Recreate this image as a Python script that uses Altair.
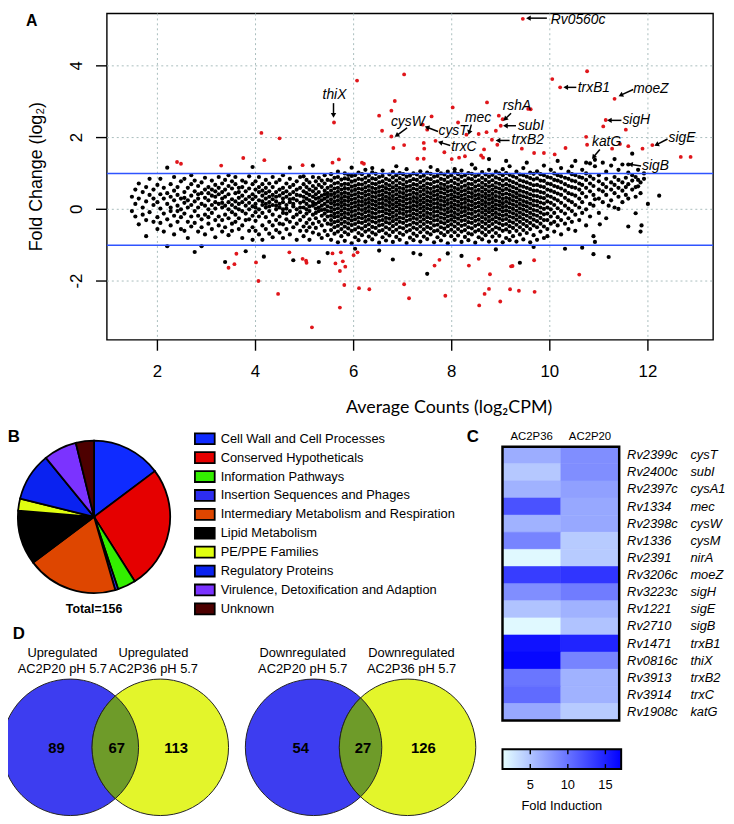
import altair as alt
import pandas as pd

# ======================= Panel A : MA plot =======================
# black (non-significant) genes, written column by column: "x|y y y ..."
black_columns = [
"1.48|0.35 -0.05", "1.55|-0.2 0.55 0.15", "1.62|0.3 -0.42 0.72", "1.70|0.05 0.48 -0.15",
"1.77|-0.75 0.22 0.62 -0.3", "1.84|0.4 -0.08 0.85", "1.92|-0.35 0.12 0.55 0.3",
"2.00|0.68 -0.22 0.2 -0.55", "2.06|0.42 0.02 -0.38 0.85", "2.13|-0.12 0.3 0.6 -0.62",
"2.20|-1.03 0.15 0.45 -0.28 1.16", "2.27|0.7 -0.05 0.35 -0.45 0.05", "2.34|-0.7 0.25 0.52 -0.18 0.9",
"2.41|0.1 -0.35 0.62 0.4 -0.05", "2.48|-0.55 0.3 0.78 0.0 -0.22", "2.55|0.48 -0.12 0.18 0.85 -0.6 0.32",
"2.62|-0.35 0.05 0.6 -0.8 0.25", "2.69|0.38 -0.2 0.7 0.12 -0.48 0.95", "2.76|-1.19 0.22 -0.05 0.5 -0.38 0.8",
"2.83|0.3 -0.62 0.05 0.65 -0.18 0.42", "2.90|-1.03 0.45 -0.28 0.15 0.75 -0.5", "2.97|0.1 0.55 -0.15 0.32 -0.7 0.88",
"3.04|-0.4 0.25 0.62 0.0 -0.22 0.45", "3.11|0.38 -0.55 0.12 0.8 -0.1 0.55", "3.18|-0.3 0.2 0.5 -0.78 0.02 0.68 0.35",
"3.25|0.15 -0.45 0.42 0.9 -0.2 0.6", "3.32|-0.62 0.3 0.05 0.72 -0.3 0.48 0.18", "3.38|-1.47 0.1 0.55 -0.15 0.35 -0.5 0.82",
"3.45|0.42 -0.25 0.2 0.65 -0.72 0.0 0.95", "3.52|-0.4 0.28 0.58 -0.08 0.12 -0.6 0.78", "3.59|0.05 0.45 -0.35 0.7 0.22 -0.15 0.9",
"3.66|-0.55 0.32 0.0 0.6 -0.25 0.48 0.15", "3.73|0.2 -0.45 0.8 -0.05 0.38 0.62 -0.8", "3.80|-1.17 0.1 0.5 -0.3 0.28 0.75 -0.12",
"3.87|0.35 -0.6 0.0 0.58 0.18 -0.28 0.92", "3.94|-0.18 0.42 0.08 -0.5 0.7 0.28 -0.85 1.18",
"4.00|0.15 -0.32 0.55 0.35 -0.08 0.78 -0.6 0.05", "4.07|0.48 -0.2 0.25 -0.7 0.62 0.0 0.9",
"4.14|-0.45 0.12 0.38 -0.1 0.7 0.22 -0.85 0.52", "4.17|-1.32", "4.21|0.3 -0.55 0.05 0.6 -0.22 0.45 0.82 0.15",
"4.28|-0.35 0.2 0.5 -0.05 0.72 0.35 -0.68 0.08", "4.35|0.4 -0.15 0.62 0.12 -0.45 0.28 0.9 -0.78",
"4.42|0.0 0.48 -0.3 0.22 0.75 -0.58 0.35 0.1", "4.49|-0.2 0.55 0.15 -0.65 0.38 0.05 0.82 -0.4",
"4.56|0.3 -0.1 0.6 -0.42 0.2 0.45 -0.8 0.0 0.95", "4.63|-0.28 0.12 0.5 0.35 -0.55 0.72 0.02 -0.12",
"4.70|0.42 -0.35 0.2 0.62 -0.05 0.85 -0.7 0.28 1.16", "4.77|-1.42 0.08 0.48 -0.22 0.3 0.68 -0.5 0.15",
"4.84|0.25 -0.4 0.55 0.0 0.78 -0.15 0.4 -0.85", "4.91|-0.3 0.18 0.6 -0.08 0.38 -0.6 0.9 0.05",
"4.98|0.35 -0.2 0.05 0.7 0.22 -0.48 0.5 -0.75 0.92", "5.04|-0.12 0.45 0.15 -0.38 0.62 0.3 -0.6 0.0 0.82",
"5.10|0.25 -0.28 0.55 0.08 -0.5 0.4 0.75 -0.05 -0.85", "5.17|0.1 -0.4 0.35 0.65 -0.15 0.5 0.2 -0.65 1.22 0.9",
"5.23|-0.25 0.3 0.02 0.58 -0.52 0.42 0.15 0.78 -0.1", "5.29|0.48 -0.05 0.2 -0.35 0.68 0.32 -0.7 0.05 -1.47 0.88",
"5.35|-0.18 0.38 0.1 0.62 -0.45 0.25 -0.02 0.8 -0.8", "5.41|0.3 -0.3 0.52 0.0 -0.6 0.72 0.15 0.42 -0.12 0.95",
"5.47|-0.05 0.45 0.22 -0.4 0.6 -0.2 0.08 0.82 -0.72 0.35 -1.22",
"5.54|-0.85 -0.58 -0.42 -0.3 -0.18 -0.06 0.05 0.17 0.28 0.4 0.52 0.65 0.8 0.98",
"5.61|-0.68 -0.5 -0.36 -0.22 -0.12 0.0 0.12 0.22 0.34 0.45 0.58 0.72 0.88",
"5.68|-0.92 -0.62 -0.46 -0.33 -0.2 -0.09 0.03 0.14 0.25 0.37 0.49 0.6 0.74 0.9 1.05",
"5.75|-0.75 -0.55 -0.4 -0.27 -0.15 -0.03 0.09 0.2 0.31 0.43 0.55 0.68 0.83",
"5.82|-0.88 -0.64 -0.48 -0.35 -0.22 -0.1 0.02 0.13 0.24 0.36 0.47 0.59 0.71 0.86 1.0",
"5.89|-0.7 -0.53 -0.39 -0.26 -0.13 -0.01 0.11 0.23 0.33 0.44 0.57 0.7 0.84 0.96",
"5.96|-0.95 -0.6 -0.44 -0.31 -0.19 -0.07 0.04 0.16 0.27 0.39 0.51 0.63 0.77 0.93 1.16",
"6.03|-0.78 -0.56 -0.41 -0.28 -0.16 -0.04 0.08 0.19 0.3 0.42 0.54 0.66 0.8 0.95 -1.1",
"6.10|-0.86 -0.66 -0.5 -0.36 -0.23 -0.11 0.01 0.12 0.23 0.35 0.46 0.58 0.7 0.85 1.02",
"6.17|-0.72 -0.54 -0.38 -0.25 -0.14 -0.02 0.1 0.21 0.32 0.44 0.56 0.69 0.83 0.98",
"6.24|-0.9 -0.62 -0.47 -0.33 -0.21 -0.08 0.03 0.15 0.26 0.38 0.49 0.61 0.74 0.88 1.1",
"6.31|-0.76 -0.57 -0.42 -0.29 -0.17 -0.05 0.07 0.18 0.29 0.41 0.53 0.65 0.79 0.94",
"6.38|-0.84 -0.65 -0.49 -0.34 -0.22 -0.1 0.02 0.14 0.25 0.36 0.48 0.6 0.72 0.86 1.03 1.15",
"6.45|-0.7 -0.52 -0.37 -0.24 -0.12 0.0 0.11 0.22 0.34 0.46 0.57 0.7 0.84 0.99",
"6.52|-0.93 -0.61 -0.45 -0.32 -0.2 -0.07 0.05 0.16 0.27 0.39 0.5 0.62 0.75 0.9 -1.15",
"6.59|-0.78 -0.58 -0.43 -0.3 -0.18 -0.06 0.06 0.17 0.29 0.4 0.52 0.64 0.78 0.93 1.08",
"6.66|-0.87 -0.67 -0.5 -0.36 -0.24 -0.11 0.0 0.12 0.24 0.35 0.47 0.59 0.71 0.85",
"6.73|-0.73 -0.55 -0.39 -0.26 -0.14 -0.03 0.09 0.2 0.31 0.43 0.55 0.67 0.81 0.97",
"6.80|-0.91 -0.63 -0.47 -0.33 -0.21 -0.09 0.03 0.14 0.26 0.37 0.49 0.61 0.74 0.89 1.04 -1.4",
"6.87|-0.77 -0.57 -0.41 -0.28 -0.16 -0.04 0.08 0.19 0.3 0.42 0.54 0.66 0.8 0.95 1.2",
"6.94|-0.85 -0.66 -0.5 -0.35 -0.23 -0.1 0.01 0.13 0.24 0.36 0.48 0.6 0.73 0.87 1.01",
"7.01|-0.71 -0.53 -0.38 -0.25 -0.13 -0.01 0.1 0.22 0.33 0.45 0.57 0.69 0.83 0.98",
"7.08|-0.94 -0.62 -0.46 -0.32 -0.19 -0.07 0.05 0.16 0.28 0.39 0.51 0.63 0.76 0.91 1.12",
"7.15|-0.79 -0.58 -0.43 -0.29 -0.17 -0.05 0.06 0.18 0.29 0.41 0.53 0.65 0.79 0.94",
"7.22|-0.86 -0.68 -0.51 -0.37 -0.24 -0.12 0.0 0.11 0.23 0.34 0.46 0.58 0.7 0.84 1.0 -1.22",
"7.29|-0.74 -0.55 -0.4 -0.27 -0.15 -0.03 0.09 0.2 0.31 0.43 0.55 0.68 0.82 0.97",
"7.36|-0.9 -0.64 -0.48 -0.34 -0.21 -0.09 0.03 0.14 0.25 0.37 0.49 0.61 0.75 0.9 1.06 -1.26",
"7.43|-0.76 -0.56 -0.41 -0.28 -0.16 -0.04 0.07 0.19 0.3 0.42 0.54 0.66 0.8 0.94",
"7.50|-0.83 -0.65 -0.49 -0.35 -0.22 -0.1 0.02 0.13 0.24 0.36 0.48 0.6 0.72 0.86 1.02 -1.8",
"7.57|-0.7 -0.53 -0.38 -0.25 -0.13 0.0 0.11 0.22 0.33 0.45 0.57 0.7 0.84 0.99 1.18",
"7.64|-0.92 -0.61 -0.45 -0.31 -0.19 -0.07 0.04 0.16 0.27 0.39 0.5 0.62 0.76 0.91",
"7.71|-0.78 -0.59 -0.43 -0.3 -0.18 -0.06 0.06 0.17 0.29 0.4 0.52 0.64 0.78 0.93 1.09",
"7.78|-0.87 -0.66 -0.5 -0.36 -0.23 -0.11 0.01 0.12 0.24 0.35 0.47 0.59 0.71 0.85 1.0",
"7.85|-0.72 -0.54 -0.39 -0.26 -0.14 -0.02 0.1 0.21 0.32 0.44 0.56 0.68 0.82 0.97",
"7.92|-0.95 -0.63 -0.47 -0.33 -0.2 -0.08 0.03 0.15 0.26 0.38 0.5 0.62 0.75 0.9 1.05 -1.23",
"7.99|-0.75 -0.57 -0.42 -0.29 -0.17 -0.05 0.07 0.18 0.3 0.41 0.53 0.65 0.79 0.95",
"8.06|-0.85 -0.64 -0.48 -0.34 -0.22 -0.1 0.02 0.13 0.25 0.36 0.48 0.6 0.73 0.87 1.03 1.12",
"8.13|-0.73 -0.55 -0.4 -0.26 -0.14 -0.02 0.1 0.21 0.33 0.44 0.56 0.69 0.83 0.98",
"8.20|-0.91 -0.62 -0.46 -0.32 -0.2 -0.08 0.04 0.15 0.27 0.38 0.5 0.62 0.76 0.91 1.08 -1.3",
"8.27|-0.77 -0.58 -0.43 -0.3 -0.17 -0.05 0.06 0.18 0.29 0.41 0.53 0.66 0.8 0.95",
"8.34|-0.86 -0.67 -0.5 -0.36 -0.23 -0.11 0.01 0.12 0.24 0.35 0.47 0.59 0.71 0.86 1.01",
"8.41|-0.7 -0.53 -0.38 -0.25 -0.13 -0.01 0.11 0.22 0.34 0.45 0.57 0.7 0.84 0.99 1.25",
"8.48|-0.93 -0.62 -0.46 -0.32 -0.2 -0.07 0.05 0.16 0.28 0.39 0.51 0.63 0.77 0.92 1.14",
"8.55|-0.78 -0.58 -0.42 -0.29 -0.16 -0.04 0.08 0.19 0.31 0.42 0.54 0.67 0.81 0.96",
"8.62|-0.84 -0.65 -0.49 -0.35 -0.22 -0.09 0.02 0.14 0.25 0.37 0.49 0.61 0.74 0.88 1.04",
"8.69|-0.72 -0.55 -0.4 -0.27 -0.15 -0.03 0.09 0.2 0.32 0.43 0.55 0.68 0.82 0.97",
"8.76|-0.9 -0.63 -0.47 -0.33 -0.21 -0.08 0.03 0.15 0.27 0.38 0.5 0.63 0.76 0.91 1.1 1.4",
"8.83|-0.76 -0.57 -0.41 -0.28 -0.15 -0.03 0.08 0.2 0.31 0.43 0.55 0.67 0.81 0.96",
"8.90|-0.88 -0.66 -0.5 -0.35 -0.22 -0.1 0.02 0.13 0.25 0.37 0.49 0.61 0.74 0.89 1.05 -1.12",
"8.97|-0.74 -0.54 -0.39 -0.26 -0.14 -0.01 0.11 0.22 0.34 0.46 0.58 0.71 0.85 1.0",
"9.04|-0.92 -0.6 -0.44 -0.3 -0.18 -0.06 0.06 0.17 0.29 0.41 0.53 0.66 0.8 0.95 1.12",
"9.11|-0.8 -0.56 -0.41 -0.27 -0.15 -0.03 0.09 0.21 0.32 0.44 0.57 0.7 0.85 1.01 1.35",
"9.18|-0.86 -0.63 -0.47 -0.33 -0.2 -0.07 0.05 0.17 0.29 0.41 0.53 0.66 0.8 0.96 1.2",
"9.25|-0.75 -0.52 -0.37 -0.23 -0.11 0.01 0.13 0.25 0.37 0.49 0.62 0.76 0.92",
"9.32|-0.9 -0.6 -0.43 -0.29 -0.16 -0.04 0.09 0.21 0.33 0.45 0.58 0.72 0.88 1.05",
"9.39|-0.7 -0.5 -0.35 -0.22 -0.09 0.03 0.15 0.27 0.39 0.52 0.66 0.81 0.97 -1.49",
"9.46|-0.84 -0.58 -0.41 -0.27 -0.14 -0.01 0.11 0.23 0.36 0.49 0.63 0.78 0.95 1.15",
"9.53|-0.66 -0.47 -0.32 -0.18 -0.05 0.08 0.2 0.33 0.46 0.6 0.75 0.91 1.3",
"9.60|-0.92 -0.55 -0.38 -0.23 -0.1 0.03 0.16 0.29 0.42 0.56 0.71 0.87 1.02",
"9.67|-0.72 -0.45 -0.29 -0.15 -0.02 0.11 0.24 0.38 0.52 0.67 0.83 0.99 -1.05",
"9.74|-0.85 -0.5 -0.33 -0.18 -0.04 0.1 0.23 0.37 0.52 0.68 0.86 1.06",
"9.81|-0.62 -0.4 -0.24 -0.09 0.05 0.19 0.33 0.48 0.64 0.8 0.98",
"9.88|-0.8 -0.48 -0.3 -0.14 0.01 0.16 0.31 0.46 0.62 0.79 0.95 1.22",
"9.95|-0.55 -0.3 -0.12 0.05 0.22 0.38 0.55 0.72 0.9 -0.75",
"10.02|-0.4 -0.2 0.0 0.18 0.35 0.52 0.7 0.88 1.1", "10.09|-0.62 -0.35 -0.1 0.12 0.3 0.48 0.65 0.82 1.0",
"10.16|-0.45 -0.22 0.03 0.25 0.44 0.62 0.8 0.95 1.35", "10.23|-0.7 -0.3 -0.05 0.18 0.4 0.58 0.76 0.92 1.15",
"10.31|-1.1 -0.4 -0.12 0.1 0.32 0.52 0.7 0.88", "10.38|-0.25 0.02 0.25 0.45 0.65 0.85 1.05 -0.55",
"10.45|-0.35 -0.05 0.2 0.42 0.62 0.8 0.98 1.2", "10.52|-0.15 0.12 0.38 0.6 0.78 0.95 -0.6 1.35",
"10.60|-0.3 0.05 0.3 0.55 0.72 0.9", "10.66|-1.07 -0.1 0.2 0.45 0.68 0.88 1.1",
"10.74|-0.45 0.0 0.35 0.6 0.82 1.0 1.3", "10.82|-0.2 0.15 0.5 0.72 0.92 1.28",
"10.89|-0.75 0.1 0.4 0.65 0.85 -1.25", "10.92|-0.91 0.28 1.2 1.38", "11.00|-0.1 0.3 0.55 0.78 0.95",
"11.02|-0.42", "11.08|0.2 0.5 0.7 1.3", "11.15|-0.25 0.4 0.62 0.85 1.05", "11.20|-1.33 0.1",
"11.25|0.25 0.55 0.75 1.22", "11.32|0.05 0.45 0.68 0.9 1.4", "11.40|0.01 0.35 0.6 0.82 1.1",
"11.48|0.2 0.52 0.75 1.25", "11.55|0.4 0.62 0.88", "11.60|-0.48 0.3 0.7 1.02 1.25",
"11.68|0.55 0.8 0.95 1.55", "11.75|-0.11 0.35 0.62 0.9", "11.80|0.64 0.82 1.1",
"11.85|-0.62 0.45 0.75", "11.87|-0.45", "11.92|0.85 1.0", "12.00|0.15", "12.23|0.38",
]

# red (significant) genes
red_x = [6.07, 5.60, 4.12, 4.49, 2.40, 2.48, 3.30, 3.75, 4.18, 4.96, 5.57, 5.70, 6.17, 6.21,
         9.45, 7.03, 10.05, 10.21, 10.76, 11.32, 6.84, 6.77, 6.52, 6.58, 6.77, 7.41, 7.59, 7.50,
         7.03, 6.81, 7.43, 7.44, 7.67, 7.85, 8.02, 8.13, 8.30, 8.00, 8.15, 8.27, 7.30, 7.43,
         8.55, 8.71, 8.72, 8.66, 8.60, 8.64, 8.96, 9.04, 9.00, 8.90, 8.82, 8.93, 9.61, 9.56,
         9.43, 9.68, 9.88, 10.10, 10.32, 10.74, 10.76, 11.14, 11.09, 11.55, 11.27, 11.43, 11.60,
         11.89, 12.09, 12.67, 12.87,
         3.61, 3.45, 3.57, 4.01, 4.06, 4.46, 4.69, 4.96, 5.03, 5.04, 5.15, 5.57, 5.63, 5.72,
         5.74, 5.78, 5.83, 5.81, 5.72, 6.00, 6.08, 6.11, 6.32, 7.03, 7.13, 7.65, 7.75, 7.87,
         8.35, 8.55, 8.56, 8.67, 8.76, 8.78, 8.99, 9.19, 9.21, 9.24, 9.37, 9.68, 9.69, 10.60]
red_y = [3.59, 2.42, 2.13, 1.98, 1.32, 1.27, 1.22, 1.43, 1.37, 1.23, 1.30, 1.39, 1.30, 1.27,
         5.31, 3.76, 3.63, 3.40, 3.85, 3.08, 3.02, 2.75, 2.61, 2.19, 2.03, 2.36, 2.59, 2.22,
         1.79, 1.71, 1.85, 1.69, 1.91, 1.59, 2.84, 2.42, 2.08, 1.40, 1.44, 1.48, 1.41, 1.41,
         2.10, 2.15, 2.98, 1.67, 1.50, 1.44, 2.61, 2.51, 2.33, 2.19, 1.94, 1.80, 2.79, 2.80,
         1.69, 1.57, 1.57, 1.53, 1.71, 2.02, 1.80, 2.49, 2.31, 2.22, 1.69, 1.82, 1.76,
         1.69, 1.79, 1.46, 1.46,
         -1.24, -1.63, -1.53, -1.48, -2.00, -2.36, -1.20, -1.38, -1.43, -1.49, -3.29, -1.23, -1.51, -1.72,
         -1.20, -1.45, -1.60, -2.11, -2.74, -1.28, -1.20, -2.20, -2.23, -2.09, -2.48, -1.57, -1.41, -2.41,
         -1.57, -1.38, -2.68, -2.36, -2.22, -1.81, -2.57, -2.23, -1.59, -1.58, -2.27, -1.42, -2.30, -1.82]

x_ticks = [2, 4, 6, 8, 10, 12]
y_ticks = [-2, 0, 2, 4]
y_tick_labels = ["-2", "0", "2", "4"]
fold_thresholds = [1, -1]

# annotated genes: label position, arrow tail and arrow head (data units)
ann_gene = ["Rv0560c", "trxB1", "moeZ", "sigH", "sigE", "sigB", "katG", "trxB2", "subI", "rshA", "mec", "cysT", "trxC", "cysW", "thiX"]
ann_lx = [10.02, 10.57, 11.70, 11.48, 12.42, 11.88, 10.86, 9.22, 9.35, 9.04, 8.27, 7.73, 7.99, 6.76, 5.61]
ann_ly = [5.28, 3.37, 3.34, 2.48, 1.99, 1.21, 1.87, 1.92, 2.33, 2.88, 2.54, 2.17, 1.74, 2.42, 3.19]
arr_tx = [9.94, 10.54, 11.70, 11.46, 12.40, 11.86, 11.02, 9.18, 9.31, 9.21, 8.40, 7.72, 7.97, 7.09, 5.59]
arr_ty = [5.33, 3.40, 3.34, 2.48, 1.96, 1.21, 1.67, 1.92, 2.33, 2.68, 2.36, 2.17, 1.78, 2.27, 2.96]
arr_hx = [9.58, 10.34, 11.46, 11.23, 12.19, 11.66, 10.90, 8.96, 9.11, 9.10, 8.36, 7.51, 7.78, 6.89, 5.59]
arr_hy = [5.33, 3.40, 3.19, 2.48, 1.81, 1.25, 1.47, 1.92, 2.33, 2.53, 2.16, 2.28, 1.86, 2.07, 2.64]
arr_angle = [270, 270, 245, 270, 244, 278, 219, 270, 270, 228, 198, 290, 287, 235, 180]

# ======================= Panel B : pie =======================
categories = ["Cell Wall and Cell Processes", "Conserved Hypotheticals", "Information Pathways",
              "Insertion Sequences and Phages", "Intermediary Metabolism and Respiration",
              "Lipid Metabolism", "PE/PPE Families", "Regulatory Proteins",
              "Virulence, Detoxification and Adaption", "Unknown"]
category_counts = [23, 41, 6, 1, 30, 18, 4, 16, 11, 6]
category_colors = ["#0f2bff", "#e50000", "#33ee00", "#2d2df0", "#de4600", "#000000",
                   "#e0ff10", "#0a22f0", "#7b33ff", "#4d0000"]

# ======================= Panel C : heatmap =======================
rv_ids = ["Rv2399c", "Rv2400c", "Rv2397c", "Rv1334", "Rv2398c", "Rv1336", "Rv2391", "Rv3206c",
          "Rv3223c", "Rv1221", "Rv2710", "Rv1471", "Rv0816c", "Rv3913", "Rv3914", "Rv1908c"]
gene_names = ["cysT", "subI", "cysA1", "mec", "cysW", "cysM", "nirA", "moeZ", "sigH", "sigE",
              "sigB", "trxB1", "thiX", "trxB2", "trxC", "katG"]
fold_ac2p36 = [6.4, 4.7, 6.1, 12.0, 6.1, 8.9, 1.7, 13.3, 8.3, 5.0, 1.7, 16.0, 16.6, 9.8, 10.5, 6.7]
fold_ac2p20 = [8.3, 8.3, 7.2, 6.7, 6.7, 4.5, 4.5, 13.8, 9.4, 6.1, 5.0, 14.9, 8.9, 6.1, 6.1, 4.5]
strains = ["AC2P36", "AC2P20"]
colorbar_ticks = [5, 10, 15]
fold_range = [1.3, 17.1]

# ======================= Panel D : Venn =======================
venn_up = [89, 67, 113]
venn_down = [54, 27, 126]

# ------------------------------------------------------------------
FONT = "Liberation Sans"
ax = alt.Scale(domain=[0.97, 13.33], range=[100, 713])
ay = alt.Scale(domain=[-3.64, 5.46], range=[331, 1])

rows = []
for col in black_columns:
    xs, ys = col.split("|")
    for v in ys.split():
        rows.append({"x": float(xs), "y": float(v)})
df_black = pd.DataFrame(rows)
df_red = pd.DataFrame({"x": red_x, "y": red_y})
df_ann = pd.DataFrame({"g": ann_gene, "lx": ann_lx, "ly": ann_ly, "tx": arr_tx, "ty": arr_ty,
                       "hx": arr_hx, "hy": arr_hy, "ang": arr_angle})
one = pd.DataFrame({"a": [0]})


def txt(s, x, y, size=13, weight="normal", align="center", angle=0, font=FONT, style="normal", base="middle"):
    kw = dict(fontSize=size, fontWeight=weight, align=align, baseline=base, font=font,
              fontStyle=style, color="black")
    if angle:
        kw["angle"] = angle
    return alt.Chart(pd.DataFrame({"t": [s]})).mark_text(**kw).encode(
        text="t:N", x=alt.value(x), y=alt.value(y))


layers = []
# frame A
layers.append(alt.Chart(one).mark_rect(fillOpacity=0, stroke="black", strokeWidth=1.4).encode(
    x=alt.value(100), x2=alt.value(713), y=alt.value(1), y2=alt.value(331)))
# grid
layers.append(alt.Chart(pd.DataFrame({"v": x_ticks})).mark_rule(
    color="#a9bdbd", strokeDash=[2, 3], strokeWidth=1).encode(
    x=alt.X("v:Q", scale=ax, axis=None), y=alt.value(1), y2=alt.value(331)))
layers.append(alt.Chart(pd.DataFrame({"v": y_ticks})).mark_rule(
    color="#a9bdbd", strokeDash=[2, 3], strokeWidth=1).encode(
    y=alt.Y("v:Q", scale=ay, axis=None), x=alt.value(100), x2=alt.value(713)))
# points
layers.append(alt.Chart(df_black).mark_circle(size=18, color="black", opacity=1).encode(
    x=alt.X("x:Q", scale=ax, axis=None), y=alt.Y("y:Q", scale=ay, axis=None)))
layers.append(alt.Chart(df_red).mark_circle(size=15, color="#e0161b", opacity=1).encode(
    x=alt.X("x:Q", scale=ax, axis=None), y=alt.Y("y:Q", scale=ay, axis=None)))
# thresholds
layers.append(alt.Chart(pd.DataFrame({"v": fold_thresholds})).mark_rule(
    color="#2f54ff", strokeWidth=1.6).encode(
    y=alt.Y("v:Q", scale=ay, axis=None), x=alt.value(100), x2=alt.value(713)))
# axis ticks and labels
layers.append(alt.Chart(pd.DataFrame({"v": x_ticks})).mark_rule(color="black", strokeWidth=1.4).encode(
    x=alt.X("v:Q", scale=ax, axis=None), y=alt.value(331), y2=alt.value(342)))
layers.append(alt.Chart(pd.DataFrame({"v": x_ticks})).mark_text(fontSize=17, font=FONT, baseline="middle").encode(
    x=alt.X("v:Q", scale=ax, axis=None), y=alt.value(364), text="v:Q"))
layers.append(alt.Chart(pd.DataFrame({"v": y_ticks})).mark_rule(color="black", strokeWidth=1.4).encode(
    y=alt.Y("v:Q", scale=ay, axis=None), x=alt.value(89), x2=alt.value(100)))
layers.append(alt.Chart(pd.DataFrame({"v": y_ticks, "lab": y_tick_labels})).mark_text(
    fontSize=17, font=FONT, baseline="middle", angle=270).encode(
    y=alt.Y("v:Q", scale=ay, axis=None), x=alt.value(70), text="lab:N"))
layers.append(txt("Fold Change (log\u2082)", 29, 166, size=18, angle=270))
layers.append(txt("Average Counts (log\u2082CPM)", 446, 400, size=18, font="Lato"))
layers.append(txt("A", 24, 9, size=16, weight="bold"))
# annotations
layers.append(alt.Chart(df_ann).mark_rule(color="black", strokeWidth=1.5).encode(
    x=alt.X("tx:Q", scale=ax, axis=None), y=alt.Y("ty:Q", scale=ay, axis=None),
    x2="hx:Q", y2="hy:Q"))
layers.append(alt.Chart(df_ann).mark_point(shape="triangle", filled=True, size=30, color="black", opacity=1).encode(
    x=alt.X("hx:Q", scale=ax, axis=None), y=alt.Y("hy:Q", scale=ay, axis=None),
    angle=alt.Angle("ang:Q", scale=None)))
layers.append(alt.Chart(df_ann[df_ann.g != "thiX"]).mark_text(
    fontSize=14, fontStyle="italic", font=FONT, align="left", baseline="middle").encode(
    x=alt.X("lx:Q", scale=ax, axis=None), y=alt.Y("ly:Q", scale=ay, axis=None), text="g:N"))
layers.append(alt.Chart(df_ann[df_ann.g == "thiX"]).mark_text(
    fontSize=14, fontStyle="italic", font=FONT, align="center", baseline="middle").encode(
    x=alt.X("lx:Q", scale=ax, axis=None), y=alt.Y("ly:Q", scale=ay, axis=None), text="g:N"))

# ---------------- Panel B ----------------
df_pie = pd.DataFrame({"cat": categories, "n": category_counts, "col": category_colors,
                       "i": list(range(len(categories)))})
layers.append(alt.Chart(df_pie).mark_arc(outerRadius=77, stroke="black", strokeWidth=1.8).encode(
    theta=alt.Theta("n:Q", stack=True), order=alt.Order("i:Q"),
    fill=alt.Fill("col:N", scale=None), x=alt.value(87), y=alt.value(510)))
layers.append(txt("Total=156", 87, 603, size=12.5, weight="bold"))
layers.append(txt("B", 6, 429, size=17, weight="bold"))
ly = alt.Scale(domain=[0, 9], range=[431, 603])
layers.append(alt.Chart(df_pie).mark_point(
    shape="M-1,-0.55L1,-0.55L1,0.55L-1,0.55Z", size=400, filled=True, stroke="black",
    strokeWidth=1.8, opacity=1).encode(
    x=alt.value(199), y=alt.Y("i:Q", scale=ly, axis=None), fill=alt.Fill("col:N", scale=None)))
layers.append(alt.Chart(df_pie).mark_text(fontSize=13, font=FONT, align="left", baseline="middle").encode(
    x=alt.value(215), y=alt.Y("i:Q", scale=ly, axis=None), text="cat:N"))

# ---------------- Panel C ----------------
heat_rows = []
for r, g, a, b in zip(rv_ids, gene_names, fold_ac2p36, fold_ac2p20):
    heat_rows.append({"gene": g, "rv": r, "strain": "AC2P36", "fold": a})
    heat_rows.append({"gene": g, "rv": r, "strain": "AC2P20", "fold": b})
df_heat = pd.DataFrame(heat_rows)
df_rows = pd.DataFrame({"gene": gene_names, "rv": rv_ids})
hx = alt.Scale(domain=strains, range=[500, 618], paddingInner=0, paddingOuter=0)
hy = alt.Scale(domain=gene_names, range=[439, 716], paddingInner=0, paddingOuter=0)
cscale = alt.Scale(domain=fold_range, range=["#e6ffff", "#0000ff"], interpolate="rgb")
layers.append(alt.Chart(df_heat).mark_rect(strokeWidth=0.6).encode(
    x=alt.X("strain:N", scale=hx, axis=None, sort=None),
    y=alt.Y("gene:N", scale=hy, axis=None, sort=None),
    fill=alt.Fill("fold:Q", scale=cscale, legend=None),
    stroke=alt.Stroke("fold:Q", scale=cscale, legend=None)))
layers.append(alt.Chart(one).mark_rect(fillOpacity=0, stroke="black", strokeWidth=2.5).encode(
    x=alt.value(500), x2=alt.value(618), y=alt.value(439), y2=alt.value(716)))
layers.append(alt.Chart(pd.DataFrame({"s": strains})).mark_text(fontSize=11.5, font=FONT, baseline="middle").encode(
    x=alt.X("s:N", scale=hx, axis=None, sort=None), y=alt.value(429), text="s:N"))
layers.append(alt.Chart(df_rows).mark_text(fontSize=13, font=FONT, fontStyle="italic", align="left", baseline="middle").encode(
    x=alt.value(626), y=alt.Y("gene:N", scale=hy, axis=None, sort=None), text="rv:N"))
layers.append(alt.Chart(df_rows).mark_text(fontSize=13, font=FONT, fontStyle="italic", align="left", baseline="middle").encode(
    x=alt.value(690), y=alt.Y("gene:N", scale=hy, axis=None, sort=None), text="gene:N"))
layers.append(txt("C", 470, 429, size=17, weight="bold"))
# colour bar
cb = alt.Scale(domain=fold_range, range=[500, 620])
grad = alt.Gradient(gradient="linear", x1=0, x2=1, y1=0, y2=0,
                    stops=[alt.GradientStop(color="#e6ffff", offset=0),
                           alt.GradientStop(color="#0000ff", offset=1)])
layers.append(alt.Chart(pd.DataFrame({"lo": [fold_range[0]], "hi": [fold_range[1]]})).mark_rect(
    fill=grad, stroke="black", strokeWidth=2).encode(
    x=alt.X("lo:Q", scale=cb, axis=None), x2="hi:Q", y=alt.value(745), y2=alt.value(765)))
layers.append(alt.Chart(pd.DataFrame({"v": colorbar_ticks})).mark_rule(color="black", strokeWidth=1.4).encode(
    x=alt.X("v:Q", scale=cb, axis=None), y=alt.value(745), y2=alt.value(750)))
layers.append(alt.Chart(pd.DataFrame({"v": colorbar_ticks})).mark_rule(color="black", strokeWidth=1.4).encode(
    x=alt.X("v:Q", scale=cb, axis=None), y=alt.value(760), y2=alt.value(765)))
layers.append(alt.Chart(pd.DataFrame({"v": colorbar_ticks})).mark_text(fontSize=13, font=FONT, baseline="middle").encode(
    x=alt.X("v:Q", scale=cb, axis=None), y=alt.value(781), text="v:Q"))
layers.append(txt("Fold Induction", 560, 802, size=13))

# ---------------- Panel D ----------------
R_SIZE = 138 * 138
def circle(cx, color):
    return alt.Chart(one).mark_point(shape="circle", filled=True, size=R_SIZE, fill=color,
                                     stroke="#222222", strokeWidth=1, opacity=1).encode(
        x=alt.value(cx), y=alt.value(743))
def lens(cx, h):
    path = f"M0,-{h}A1,1,0,0,1,0,{h}A1,1,0,0,1,0,-{h}Z"
    return alt.Chart(one).mark_point(shape=path, filled=True, size=R_SIZE, fill="#6e9b29",
                                     stroke="#222222", strokeWidth=1, opacity=1).encode(
        x=alt.value(cx), y=alt.value(743))
layers += [circle(63, "#3d3df0"), circle(154, "#e3f52b"), lens(108.5, 0.752),
           circle(309, "#3d3df0"), circle(404, "#e3f52b"), lens(356.5, 0.725)]
layers.append(txt("D", 11, 628, size=17, weight="bold"))
for cx, l1, l2 in [(55, "Upregulated", "AC2P20 pH 5.7"), (147, "Upregulated", "AC2P36 pH 5.7"),
                   (298, "Downregulated", "AC2P20 pH 5.7"), (408, "Downregulated", "AC2P36 pH 5.7")]:
    layers.append(txt(l1, cx, 648, size=13))
    layers.append(txt(l2, cx, 664, size=13))
for cx, v in zip([49, 110, 170], venn_up):
    layers.append(txt(str(v), cx, 744, size=15, weight="bold"))
for cx, v in zip([296, 359, 420], venn_down):
    layers.append(txt(str(v), cx, 744, size=15, weight="bold"))

chart = alt.layer(*layers).resolve_scale(
    x="independent", y="independent", color="independent", fill="independent", stroke="independent"
).properties(width=726, height=816, padding=0, autosize="none", background="white"
).configure_view(stroke=None)

chart.save("out.html", embed_options={"renderer": "svg", "actions": False})
